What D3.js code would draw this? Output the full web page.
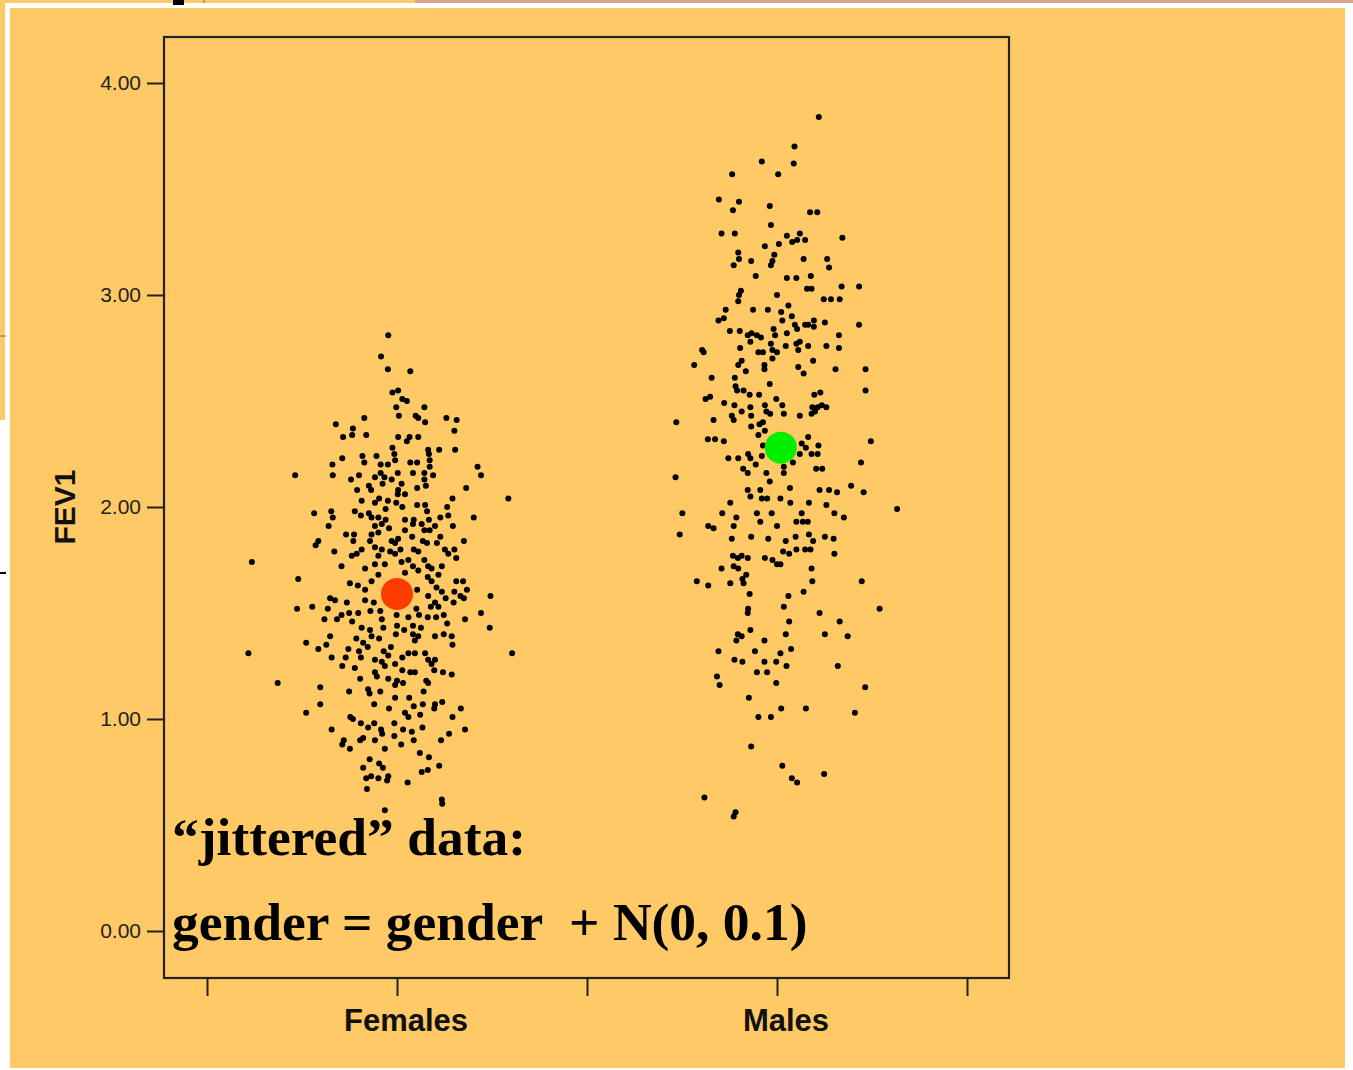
<!DOCTYPE html>
<html lang="en">
<head>
<meta charset="UTF-8">
<title>FEV1 by gender, jittered</title>
<script src="https://d3js.org/d3.v7.min.js"></script>
<style>
body { margin: 0; background: #fff; }
svg { display: block; }
</style>
</head>
<body>
<svg id="chart" width="1353" height="1070"></svg>
<script>
// categories and axis ticks
var groups = ["Females", "Males"];
var groupCodes = [0, 1];
var yTicks = [0, 1, 2, 3, 4];
var xTicks = [-0.5, 0, 0.5, 1, 1.5];

// [jitter, FEV1]
var femalePoints = [
[-0.023,2.81],[-0.042,2.71],[-0.024,2.65],[-0.012,2.54],[0.003,2.55],[-0.002,2.47],[0.005,2.43],[-0.086,2.42],[-0.161,2.39],[-0.116,2.37],
[-0.142,2.33],[-0.118,2.34],[-0.081,2.34],[0.003,2.33],[-0.012,2.28],[-0.007,2.25],[-0.144,2.23],[-0.091,2.24],[-0.086,2.21],[-0.054,2.24],
[-0.005,2.22],[-0.170,2.20],[-0.043,2.20],[-0.024,2.20],[-0.268,2.15],[-0.169,2.15],[-0.121,2.13],[-0.100,2.15],[-0.058,2.14],[-0.043,2.16],
[-0.033,2.14],[-0.014,2.13],[-0.038,2.11],[0.002,2.16],[-0.074,2.10],[-0.068,2.08],[-0.105,2.08],[-0.093,2.03],[-0.058,2.02],[-0.047,2.04],
[-0.024,2.03],[-0.002,2.02],[0.002,2.06],[-0.030,1.99],[-0.218,1.97],[-0.173,1.98],[-0.169,1.95],[-0.111,1.98],[-0.095,1.96],[-0.074,1.97],
[-0.067,1.95],[-0.049,1.95],[-0.030,1.94],[-0.180,1.91],[-0.058,1.91],[-0.040,1.92],[-0.021,1.90],[-0.134,1.87],[-0.113,1.87],[-0.115,1.84],
[-0.067,1.87],[-0.049,1.88],[-0.207,1.84],[-0.214,1.82],[-0.071,1.84],[-0.014,1.84],[-0.005,1.83],[-0.165,1.79],[-0.119,1.77],[-0.106,1.78],
[-0.093,1.80],[-0.058,1.81],[-0.040,1.80],[-0.018,1.79],[-0.005,1.78],[-0.049,1.77],[-0.382,1.74],[-0.146,1.72],[-0.084,1.71],[-0.058,1.73],
[-0.032,1.73],
[0.035,2.64],[0.014,2.51],[0.026,2.50],[0.072,2.47],[0.049,2.43],[0.056,2.42],[0.074,2.40],[0.130,2.42],[0.157,2.41],[0.151,2.36],
[0.033,2.33],[0.056,2.33],[0.026,2.31],[0.082,2.27],[0.111,2.27],[0.153,2.27],[0.084,2.25],[0.086,2.22],[0.035,2.21],[0.053,2.21],
[0.086,2.19],[0.212,2.19],[0.042,2.16],[0.072,2.16],[0.095,2.15],[0.072,2.13],[0.221,2.15],[0.182,2.09],[0.012,2.11],[0.053,2.09],
[0.076,2.10],[0.003,2.08],[0.021,2.06],[0.293,2.04],[0.146,2.04],[0.014,2.00],[0.053,2.01],[0.074,2.01],[0.079,1.98],[0.132,2.00],
[0.135,1.96],[0.202,1.95],[0.021,1.94],[0.044,1.94],[0.084,1.94],[0.114,1.95],[0.042,1.92],[0.065,1.92],[0.100,1.91],[0.147,1.91],
[0.021,1.89],[0.072,1.89],[0.086,1.89],[0.003,1.85],[0.040,1.86],[0.068,1.84],[0.079,1.83],[0.114,1.86],[0.105,1.83],[0.176,1.84],
[0.009,1.80],[0.044,1.80],[0.056,1.79],[0.126,1.80],[0.151,1.80],[0.135,1.78],[0.156,1.76],[0.030,1.75],[0.072,1.75],[0.012,1.74],
[0.042,1.72],[0.082,1.72],[0.118,1.72],
[-0.049,1.68],[-0.260,1.66],[-0.124,1.64],[-0.103,1.63],[-0.067,1.65],[-0.084,1.61],[-0.176,1.57],[-0.163,1.56],[-0.132,1.55],[-0.084,1.56],
[-0.061,1.55],[-0.263,1.52],[-0.223,1.53],[-0.182,1.52],[-0.126,1.50],[-0.102,1.50],[-0.070,1.51],[-0.044,1.51],[-0.191,1.47],[-0.158,1.47],
[-0.146,1.49],[-0.118,1.46],[-0.040,1.47],[-0.001,1.49],[-0.093,1.43],[-0.071,1.42],[-0.036,1.43],[0.000,1.44],[-0.176,1.39],[-0.107,1.38],
[-0.089,1.36],[-0.067,1.39],[-0.047,1.38],[-0.003,1.40],[-0.239,1.36],[-0.186,1.35],[-0.207,1.33],[-0.128,1.33],[-0.100,1.32],[-0.077,1.34],
[-0.035,1.32],[-0.016,1.34],[-0.391,1.31],[-0.172,1.29],[-0.135,1.29],[-0.095,1.29],[-0.058,1.28],[-0.040,1.27],[-0.023,1.30],[-0.005,1.26],
[-0.144,1.25],[-0.111,1.24],[-0.058,1.22],[-0.032,1.25],[-0.097,1.19],[-0.053,1.20],[-0.023,1.19],[-0.314,1.17],[-0.202,1.15],[-0.126,1.13],
[-0.076,1.14],[-0.044,1.13],[-0.005,1.16],[-0.072,1.12],[-0.202,1.07],[-0.239,1.03],[-0.060,1.07],[-0.021,1.05],[-0.005,1.10],[-0.123,1.01],
[-0.116,1.00],[-0.095,0.98],[-0.076,0.96],[-0.060,0.98],[-0.042,0.95],[-0.039,0.93],[-0.007,0.98],[-0.172,0.95],[-0.140,0.90],[-0.144,0.88],
[-0.124,0.86],[-0.097,0.90],[-0.089,0.91],[-0.058,0.90],[-0.007,0.92],[-0.032,0.86],[-0.072,0.81],[-0.089,0.77],[-0.047,0.79],[-0.037,0.77],
[-0.081,0.72],[-0.068,0.73],[-0.049,0.72],[-0.023,0.73],[-0.026,0.71],[-0.079,0.67],[-0.032,0.57],
[0.091,1.71],[0.021,1.69],[0.056,1.70],[0.081,1.67],[0.091,1.65],[0.109,1.68],[0.156,1.65],[0.174,1.65],[0.053,1.61],[0.104,1.62],
[0.118,1.60],[0.151,1.60],[0.184,1.61],[0.246,1.58],[0.082,1.58],[0.128,1.57],[0.167,1.58],[0.176,1.57],[0.100,1.55],[0.149,1.55],
[0.051,1.52],[0.089,1.53],[0.109,1.53],[0.221,1.50],[0.030,1.48],[0.058,1.49],[0.081,1.48],[0.103,1.48],[0.123,1.49],[0.179,1.47],
[0.019,1.42],[0.042,1.44],[0.063,1.43],[0.132,1.45],[0.244,1.43],[0.042,1.40],[0.056,1.39],[0.100,1.39],[0.123,1.40],[0.144,1.39],
[0.047,1.37],[0.146,1.35],[0.303,1.31],[0.030,1.31],[0.014,1.29],[0.047,1.31],[0.074,1.31],[0.082,1.28],[0.100,1.28],[0.091,1.26],
[0.014,1.23],[0.035,1.22],[0.047,1.22],[0.098,1.23],[0.121,1.22],[0.144,1.21],[0.000,1.18],[0.016,1.17],[0.077,1.18],[0.082,1.17],
[0.070,1.13],[0.032,1.10],[0.100,1.07],[0.119,1.08],[0.044,1.06],[0.068,1.07],[0.021,1.03],[0.030,1.01],[0.061,1.02],[0.098,1.05],
[0.168,1.05],[0.146,1.01],[0.067,0.96],[0.016,0.95],[0.039,0.94],[0.179,0.95],[0.137,0.93],[0.044,0.90],[0.116,0.90],[0.011,0.88],
[0.060,0.84],[0.084,0.82],[0.111,0.78],[0.081,0.76],[0.065,0.75],[0.028,0.70],[0.118,0.62],[0.119,0.60]
];

var malePoints = [
[-0.040,3.63],[-0.118,3.57],[0.003,3.57],[-0.153,3.45],[-0.100,3.44],[-0.116,3.40],[-0.019,3.42],[-0.016,3.33],[-0.146,3.29],[-0.111,3.29],
[0.026,3.28],[-0.032,3.23],[0.005,3.24],[-0.102,3.20],[-0.100,3.17],[-0.114,3.14],[-0.068,3.16],[-0.007,3.19],[-0.012,3.16],[-0.016,3.14],
[-0.056,3.09],[0.026,3.08],[-0.095,3.02],[-0.100,3.00],[-0.102,2.97],[0.000,3.00],[0.030,2.95],[-0.135,2.93],[-0.063,2.93],[-0.024,2.93],
[0.011,2.92],[-0.154,2.88],[-0.140,2.89],[0.014,2.88],[-0.124,2.83],[-0.098,2.83],[-0.077,2.81],[-0.067,2.82],[-0.053,2.81],[-0.042,2.80],
[-0.070,2.78],[-0.009,2.84],[-0.005,2.81],[0.026,2.82],[-0.197,2.74],[-0.193,2.73],[-0.097,2.75],[-0.049,2.73],[-0.037,2.73],[-0.016,2.77],
[-0.012,2.74],[0.000,2.73],[0.023,2.76],[-0.218,2.67],[-0.102,2.67],[-0.093,2.69],[-0.082,2.64],[-0.033,2.67],[-0.033,2.65],[-0.012,2.70],
[-0.172,2.61],[-0.111,2.61],[-0.019,2.58],[-0.109,2.57],[-0.105,2.55],[-0.088,2.55],[-0.072,2.53],[-0.047,2.53],[-0.188,2.51],[-0.176,2.52],
[-0.139,2.49],[-0.112,2.48],[-0.070,2.47],[-0.032,2.48],[-0.002,2.51],[0.014,2.48],[-0.119,2.43],[-0.093,2.45],[-0.068,2.43],[-0.028,2.45],
[-0.018,2.44],[0.018,2.44],[-0.167,2.41],[-0.114,2.41],[-0.265,2.40],[-0.068,2.38],[-0.046,2.39],[-0.037,2.40],[-0.032,2.36],[-0.049,2.34],
[-0.182,2.32],[-0.163,2.32],[-0.140,2.31],[-0.037,2.29],[-0.128,2.23],[-0.102,2.23],[-0.076,2.25],[-0.070,2.23],[-0.040,2.24],[-0.056,2.20],
[-0.089,2.18],
[0.110,3.84],[0.046,3.70],[0.044,3.62],[0.087,3.39],[0.106,3.39],[0.060,3.29],[0.040,3.25],[0.053,3.26],[0.074,3.26],[0.172,3.27],
[0.070,3.17],[0.132,3.17],[0.137,3.13],[0.051,3.08],[0.089,3.09],[0.079,3.03],[0.091,3.03],[0.170,3.04],[0.216,3.04],[0.123,2.98],
[0.142,2.98],[0.165,2.98],[0.039,2.90],[0.047,2.86],[0.053,2.84],[0.074,2.86],[0.082,2.86],[0.097,2.88],[0.097,2.85],[0.126,2.87],
[0.216,2.86],[0.163,2.81],[0.051,2.77],[0.060,2.78],[0.056,2.74],[0.082,2.76],[0.130,2.76],[0.163,2.75],[0.095,2.69],[0.056,2.66],
[0.070,2.63],[0.154,2.65],[0.233,2.65],[0.233,2.55],[0.098,2.53],[0.114,2.54],[0.060,2.43],[0.093,2.47],[0.100,2.45],[0.107,2.47],
[0.118,2.48],[0.130,2.47],[0.091,2.44],[0.082,2.33],[0.065,2.30],[0.076,2.28],[0.109,2.29],[0.060,2.25],[0.091,2.25],[0.107,2.25],
[0.247,2.31],[0.042,2.21],[0.221,2.21],[0.119,2.18],[0.103,2.18],
[-0.267,2.14],[-0.077,2.16],[-0.028,2.16],[-0.019,2.12],[0.018,2.19],[0.018,2.16],[-0.077,2.08],[-0.070,2.05],[-0.044,2.08],[-0.040,2.04],
[-0.026,2.04],[0.009,2.04],[0.034,2.09],[-0.123,2.02],[-0.249,1.97],[-0.144,1.97],[-0.107,1.95],[-0.053,1.97],[-0.014,1.97],[-0.044,1.93],
[-0.181,1.91],[-0.167,1.90],[-0.114,1.91],[0.000,1.91],[-0.256,1.87],[-0.119,1.85],[-0.068,1.86],[-0.023,1.85],[0.023,1.84],[-0.116,1.77],
[-0.103,1.76],[-0.093,1.77],[-0.077,1.76],[-0.032,1.76],[-0.012,1.75],[0.000,1.73],[0.009,1.73],[0.016,1.79],[-0.146,1.71],[-0.114,1.72],
[-0.102,1.71],[-0.081,1.68],[-0.091,1.66],[-0.088,1.64],[-0.211,1.65],[-0.181,1.63],[-0.123,1.64],[-0.072,1.59],[-0.076,1.52],[-0.077,1.50],
[0.018,1.53],[0.030,1.58],[-0.070,1.42],[-0.103,1.40],[-0.093,1.39],[-0.107,1.37],[-0.033,1.37],[0.023,1.40],[0.032,1.46],[-0.154,1.32],
[-0.058,1.32],[0.009,1.31],[-0.112,1.28],[-0.091,1.27],[-0.033,1.27],[-0.002,1.27],[0.025,1.25],[-0.158,1.20],[-0.151,1.16],[-0.053,1.22],
[-0.026,1.22],[-0.002,1.17],[-0.074,1.10],[0.011,1.05],[-0.049,1.01],[-0.016,1.01],[-0.068,0.87],[0.014,0.78],[-0.191,0.63],[-0.109,0.56],
[-0.114,0.54],
[0.112,2.08],[0.137,2.08],[0.158,2.07],[0.195,2.10],[0.228,2.07],[0.035,2.02],[0.084,2.02],[0.130,2.01],[0.316,1.99],[0.065,1.97],
[0.051,1.93],[0.068,1.93],[0.081,1.93],[0.151,1.97],[0.176,1.95],[0.049,1.86],[0.084,1.87],[0.095,1.84],[0.126,1.86],[0.149,1.85],
[0.032,1.78],[0.051,1.80],[0.074,1.80],[0.088,1.80],[0.151,1.78],[0.091,1.71],[0.093,1.65],[0.223,1.65],[0.070,1.60],
[0.270,1.52],[0.112,1.50],[0.165,1.46],[0.126,1.40],[0.186,1.39],[0.037,1.33],[0.160,1.25],[0.232,1.15],[0.076,1.05],[0.205,1.03],
[0.039,0.72],[0.053,0.70],[0.124,0.74]
];

// group means (big dots)
var meanFev = [1.59, 2.28];
var meanJitter = [0, 0.01];
var meanColours = ["#ff3c00", "#00ee00"];

var noteLines = ["\u201cjittered\u201d data:", "gender = gender  + N(0, 0.1)"];

var svg = d3.select("#chart");
var orange = "#ffc966";

// slide background, with the bits of the previous slide peeking out
svg.append("rect").attr("x", 0).attr("y", 0).attr("width", 415).attr("height", 420).style("fill", orange);
svg.append("rect").attr("x", 415).attr("y", 0).attr("width", 938).attr("height", 3).style("fill", "#d8a48e");
svg.append("rect").attr("x", 5).attr("y", 3).attr("width", 1348).attr("height", 1067).style("fill", "#fff");
svg.append("rect").attr("x", 10).attr("y", 8).attr("width", 1335).attr("height", 1060).style("fill", orange);
svg.append("rect").attr("x", 173).attr("y", 0).attr("width", 11).attr("height", 5).style("fill", "#000");
svg.append("line").attr("x1", 204).attr("x2", 204).attr("y1", 0).attr("y2", 3).style("stroke", "#777");
svg.append("line").attr("x1", 0).attr("x2", 6).attr("y1", 336).attr("y2", 336).style("stroke", "#777");
svg.append("line").attr("x1", 0).attr("x2", 6).attr("y1", 573).attr("y2", 573).style("stroke", "#000").style("stroke-width", 2);

var plot = {left: 164, right: 1009, top: 37, bottom: 978};

var x = d3.scaleLinear().domain([-0.5, 1.5]).range([207, 967]);
var y = d3.scaleLinear().domain([0, 4]).range([931, 83]);

// frame
svg.append("rect")
	.attr("x", plot.left).attr("y", plot.top)
	.attr("width", plot.right - plot.left).attr("height", plot.bottom - plot.top)
	.style("fill", "none").style("stroke", "#222").style("stroke-width", 2.2);

// y axis
var yAxis = svg.append("g")
	.attr("transform", "translate(" + plot.left + ",0)")
	.call(d3.axisLeft(y).tickValues(yTicks).tickFormat(d3.format(".2f")).tickSize(17).tickPadding(6));
yAxis.select(".domain").remove();
yAxis.selectAll("line").style("stroke", "#222").style("stroke-width", 2);
yAxis.selectAll("text")
	.style("font-family", "'Liberation Sans', Arial, sans-serif")
	.style("font-size", "21px").style("fill", "#222");

// x axis (ticks only, labels added below)
var xAxis = svg.append("g")
	.attr("transform", "translate(0," + plot.bottom + ")")
	.call(d3.axisBottom(x).tickValues(xTicks).tickFormat("").tickSize(18));
xAxis.select(".domain").remove();
xAxis.selectAll("line").style("stroke", "#222").style("stroke-width", 2);

svg.selectAll(".glabel").data(groups).enter().append("text")
	.attr("class", "glabel")
	.attr("x", function(d, i) { return x(groupCodes[i]) + 9; })
	.attr("y", 1031)
	.attr("text-anchor", "middle")
	.style("font-family", "'Liberation Sans', Arial, sans-serif")
	.style("font-weight", "bold").style("font-size", "31px").style("fill", "#111")
	.text(function(d) { return d; });

svg.append("text")
	.attr("transform", "translate(75,507) rotate(-90)")
	.attr("text-anchor", "middle")
	.style("font-family", "'Liberation Sans', Arial, sans-serif")
	.style("font-weight", "bold").style("font-size", "30px").style("fill", "#111")
	.text("FEV1");

// jittered points
var allPoints = [femalePoints, malePoints];
allPoints.forEach(function(pts, g) {
	svg.append("g").selectAll("circle").data(pts).enter().append("circle")
		.attr("cx", function(d) { return x(groupCodes[g] + d[0]); })
		.attr("cy", function(d) { return y(d[1]); })
		.attr("r", 3)
		.style("fill", "#000");
});

// means
svg.append("g").selectAll("circle").data(meanFev).enter().append("circle")
	.attr("cx", function(d, i) { return x(groupCodes[i] + meanJitter[i]); })
	.attr("cy", function(d) { return y(d); })
	.attr("r", 16)
	.style("fill", function(d, i) { return meanColours[i]; });

// annotation
svg.selectAll(".note").data(noteLines).enter().append("text")
	.attr("class", "note")
	.attr("x", 172)
	.attr("y", function(d, i) { return 855 + i * 85; })
	.style("font-family", "'Liberation Serif', 'Times New Roman', serif")
	.style("font-weight", "bold").style("font-size", "53.5px").style("fill", "#000")
	.style("white-space", "pre")
	.text(function(d) { return d; });
</script>
</body>
</html>
